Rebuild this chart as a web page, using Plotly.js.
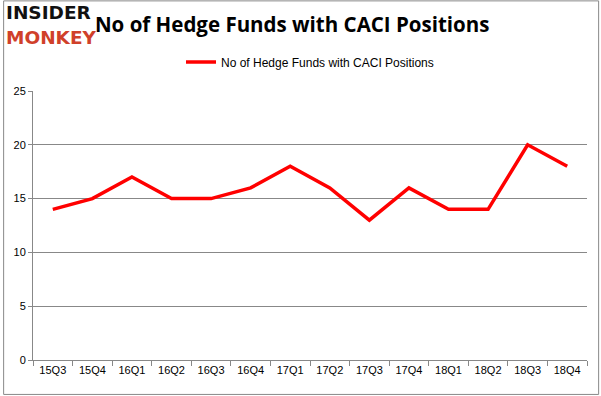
<!DOCTYPE html>
<html>
<head>
<meta charset="utf-8">
<script src="https://cdn.plot.ly/plotly-3.0.1.min.js"></script>
<style>
html,body{margin:0;padding:0;background:#fff;}
#chart{width:601px;height:396px;}
</style>
</head>
<body>
<div id="chart"></div>
<script>
const quarters = ["15Q3","15Q4","16Q1","16Q2","16Q3","16Q4","17Q1","17Q2","17Q3","17Q4","18Q1","18Q2","18Q3","18Q4"];
const hedgeFunds = [14,15,17,15,15,16,18,16,13,16,14,14,20,18];
const yTicks = [0,5,10,15,20,25];
const seriesName = "No of Hedge Funds with CACI Positions";

const trace = {
  x: quarters, y: hedgeFunds, type: "scatter", mode: "lines",
  name: seriesName,
  line: {color: "#ff0000", width: 3.5}
};
const layout = {
  width: 601, height: 396,
  margin: {l: 33, r: 14, t: 91, b: 36},
  paper_bgcolor: "#fff", plot_bgcolor: "#fff",
  font: {family: "Liberation Sans, Arial, sans-serif", size: 11, color: "#000"},
  title: {text: "<b>No of Hedge Funds with CACI Positions</b>", x: 0.158, xanchor: "left", y: 0.937, yanchor: "middle",
          font: {family: "Open Sans, sans-serif", size: 20.5, color: "#000"}},
  showlegend: true,
  legend: {orientation: "h", x: 0.5, xanchor: "center", y: 1.108, yanchor: "middle", font: {size: 12}},
  xaxis: {
    type: "category", range: [-0.5, quarters.length - 0.5], tickson: "boundaries", ticks: "outside", ticklen: 5, tickcolor: "#888",
    showline: true, linecolor: "#888", showgrid: false, tickfont: {size: 11}, fixedrange: true
  },
  yaxis: {
    range: [0, 25], tickvals: yTicks, showgrid: true, gridcolor: "#888", gridwidth: 1,
    showline: true, linecolor: "#888", ticks: "outside", ticklen: 4, tickcolor: "#888",
    zeroline: false, tickfont: {size: 11}
  },
  shapes: [{type: "rect", xref: "paper", yref: "paper", x0: -0.053, x1: 1.021, y0: -0.128, y1: 1.335,
            line: {color: "#888", width: 1}}],
  annotations: [
    {text: "<b>INSIDER</b>", xref: "paper", yref: "paper", x: -0.052, y: 1.29, xanchor: "left", yanchor: "middle",
     showarrow: false, font: {family: "DejaVu Sans, sans-serif", size: 18.5, color: "#111"}},
    {text: "<b>MONKEY</b>", xref: "paper", yref: "paper", x: -0.052, y: 1.2, xanchor: "left", yanchor: "middle",
     showarrow: false, font: {family: "DejaVu Sans, sans-serif", size: 18.5, color: "#d0402a"}}
  ]
};
Plotly.newPlot("chart", [trace], layout, {displayModeBar: false, staticPlot: true});
</script>
</body>
</html>
